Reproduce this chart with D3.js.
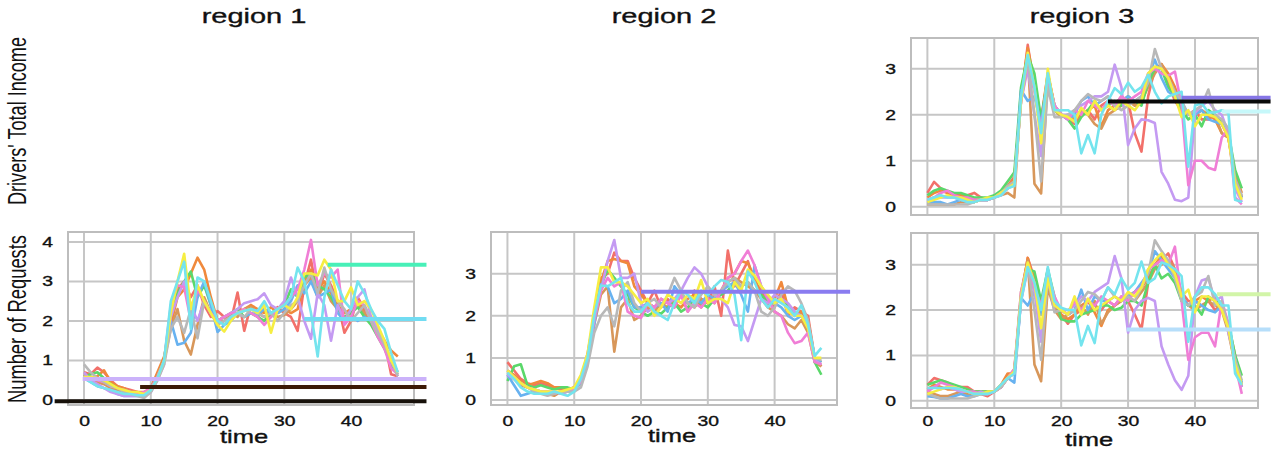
<!DOCTYPE html>
<html>
<head>
<meta charset="utf-8">
<script src="https://cdn.jsdelivr.net/npm/d3@7"></script>
<style>
  body { margin: 0; background: #fff; }
  svg { display: block; font-family: "Liberation Sans", Arial, sans-serif; }
</style>
</head>
<body>
<svg id="chart" width="1272" height="455"></svg>
<script>
// ---- data ----------------------------------------------------------------
const times = d3.range(48);
const regions = ['region 1', 'region 2', 'region 3'];
const rowTitles = ["Drivers' Total Income", 'Number of Requests'];
const xTickValues = [0, 10, 20, 30, 40];
const yTicksR1 = [0, 1, 2, 3, 4];
const yTicksR2 = [0, 1, 2, 3];
const yTicksR3 = [0, 1, 2, 3];

// region 1, number of requests
const r1Red = [0.7,0.65,0.82,0.7,0.5,0.35,0.3,0.25,0.2,0.15, 0.25,0.6,1.0,2.2,2.8,3.0,2.6,2.9,2.4,2.1, 2.25,2.1,2.0,2.72,1.75,2.4,2.1,2.3,2.1,2.35, 2.2,2.1,1.75,2.9,3.55,2.6,3.2,2.9,2.5,1.7, 2.0,2.6,2.3,2.1,1.8,1.5,0.65,0.6];
const r1Orange = [0.6,0.55,0.6,0.75,0.45,0.35,0.3,0.2,0.2,0.2, 0.3,0.7,1.1,1.9,2.6,2.8,3.2,3.6,3.3,2.6, 2.0,2.1,2.15,2.2,2.3,2.4,2.3,2.2,2.35,2.2, 2.3,2.2,2.3,3.0,3.3,2.8,3.0,2.7,2.4,2.2, 2.3,2.5,2.2,2.0,1.8,1.5,1.25,1.1];
const r1Tan = [0.65,0.5,0.45,0.4,0.3,0.25,0.2,0.15,0.15,0.15, 0.25,0.6,1.0,1.8,2.3,1.5,1.15,1.9,2.6,2.2, 1.95,2.0,2.2,2.1,2.3,2.35,2.2,2.1,2.2,2.1, 2.15,2.3,2.5,2.9,3.1,2.6,2.9,2.5,2.3,2.1, 2.2,2.4,2.2,2.0,1.7,1.4,1.0,0.7];
const r1Green = [0.6,0.65,0.7,0.55,0.4,0.3,0.25,0.2,0.15,0.15, 0.3,0.6,1.0,2.3,2.7,3.0,3.25,2.6,2.9,2.4, 2.0,2.1,2.2,2.3,2.1,2.2,2.1,2.0,2.2,2.3, 2.4,2.8,2.6,3.1,3.2,2.9,2.8,2.6,2.3,2.1, 2.2,2.35,2.1,1.9,1.6,1.3,0.9,0.65];
const r1Blue = [0.55,0.45,0.35,0.3,0.25,0.15,0.1,0.1,0.1,0.1, 0.2,0.5,1.0,2.0,1.4,1.45,1.7,2.6,3.0,2.4, 1.72,1.9,2.0,2.2,2.1,2.2,2.15,2.3,2.2,2.2, 2.3,2.5,2.9,2.7,3.0,2.6,2.7,2.8,2.2,2.0, 2.1,2.0,2.1,2.0,1.7,1.4,1.0,0.7];
const r1Purple = [0.7,0.5,0.4,0.3,0.2,0.15,0.1,0.1,0.1,0.1, 0.2,0.5,0.9,2.1,2.6,3.0,2.4,2.0,2.5,2.2, 2.0,2.1,2.2,2.3,2.45,2.5,2.55,2.7,2.4,2.3, 2.5,3.1,2.6,2.0,1.55,2.7,2.4,1.5,2.4,2.0, 2.3,2.6,2.8,2.1,1.8,1.4,1.0,0.6];
const r1Pink = [0.6,0.55,0.5,0.45,0.35,0.3,0.25,0.2,0.15,0.2, 0.3,0.6,1.0,2.4,2.9,2.85,2.0,2.8,2.5,2.2, 2.0,2.1,2.2,2.2,2.3,2.2,2.1,1.9,2.1,2.3, 2.4,2.6,2.8,3.3,4.05,2.9,3.2,3.1,3.3,1.9, 2.1,2.5,2.4,2.0,1.6,1.3,0.8,0.65];
const r1Gray = [0.9,0.7,0.55,0.45,0.35,0.3,0.2,0.15,0.1,0.05, 0.2,0.5,0.9,1.8,2.1,1.7,2.3,1.56,2.5,2.2, 1.9,2.0,2.1,2.2,2.1,2.3,2.2,2.1,2.2,2.0, 2.2,2.4,2.5,2.9,3.2,2.7,3.35,2.8,2.5,2.3, 2.0,2.2,2.4,2.0,1.7,1.4,1.0,0.6];
const r1Yellow = [0.58,0.58,0.55,0.5,0.4,0.3,0.25,0.2,0.2,0.15, 0.25,0.55,1.0,2.2,3.0,3.7,2.3,2.9,2.5,2.2, 1.9,1.73,2.0,2.2,2.25,2.3,2.2,2.4,1.7,2.3, 2.4,2.3,2.6,3.2,3.2,3.15,3.55,3.3,2.5,2.5, 2.85,2.4,2.5,2.3,1.9,1.5,1.0,0.7];
const r1Cyan = [0.55,0.45,0.35,0.3,0.25,0.2,0.15,0.15,0.12,0.12, 0.25,0.55,1.0,2.5,3.0,3.5,1.8,3.1,3.0,2.5, 2.0,1.9,2.1,2.2,2.25,2.3,2.25,2.5,2.2,2.3, 2.4,2.6,3.35,3.0,2.2,1.1,2.6,3.3,2.9,2.5, 2.3,3.0,2.7,2.3,2.0,1.8,1.2,0.7];
const r1LevelStart = [-4.4, 8.4, -0.2, 33, 36.5];
const r1LevelValue = [-0.03, 0.33, 0.53, 2.05, 3.42];

// region 2, number of requests
const r2Red = [0.9,0.7,0.5,0.4,0.35,0.4,0.35,0.3,0.25,0.25, 0.3,0.5,1.1,2.0,2.9,3.0,3.5,3.3,3.3,2.9, 2.6,2.3,2.6,2.2,2.4,2.2,2.5,2.1,2.6,2.4, 2.3,2.7,2.0,3.55,2.7,3.0,3.3,2.8,2.6,2.3, 2.2,2.6,2.0,2.2,2.1,2.0,1.0,0.8];
const r2Orange = [0.7,0.6,0.45,0.35,0.4,0.45,0.4,0.3,0.3,0.25, 0.3,0.5,1.0,1.9,2.8,3.3,3.35,3.3,3.25,2.7, 2.5,2.3,2.2,2.4,2.3,2.3,2.2,2.4,2.5,2.2, 2.4,2.3,2.6,2.9,3.0,3.3,3.25,2.9,2.5,2.3, 2.4,2.8,2.2,2.0,2.1,1.9,1.0,0.9];
const r2Tan = [0.6,0.5,0.35,0.3,0.25,0.2,0.15,0.1,0.2,0.2, 0.25,0.4,0.9,1.8,2.5,2.7,1.15,2.2,2.4,1.9, 2.0,2.2,2.1,2.3,2.2,2.4,2.5,2.3,2.2,2.4, 2.3,2.5,2.6,2.8,2.9,2.8,2.7,2.6,2.4,2.2, 2.1,2.0,1.8,1.7,1.9,1.6,0.9,0.8];
const r2Green = [0.45,0.8,0.85,0.35,0.3,0.35,0.3,0.25,0.3,0.3, 0.25,0.45,1.0,1.9,2.7,3.1,2.9,2.7,2.5,2.2, 2.1,2.0,2.1,2.05,2.2,2.3,2.1,2.2,2.4,2.3, 2.2,2.4,2.5,2.6,2.8,2.7,2.8,2.6,2.5,2.3, 2.3,2.4,2.2,2.1,2.0,1.8,0.9,0.6];
const r2Blue = [0.6,0.35,0.1,0.15,0.2,0.15,0.15,0.2,0.15,0.2, 0.25,0.4,0.9,1.8,2.75,2.7,2.3,2.4,2.6,2.2, 2.2,2.3,2.2,2.3,2.1,2.7,2.5,2.3,2.4,2.3, 2.5,2.4,2.6,2.7,2.8,2.5,2.1,3.2,2.7,2.4, 2.3,2.2,2.0,1.9,2.0,1.8,1.0,0.9];
const r2Purple = [0.6,0.5,0.4,0.3,0.25,0.2,0.2,0.15,0.2,0.2, 0.25,0.45,1.0,2.0,2.6,3.3,3.8,2.9,2.9,3.0, 2.3,2.1,2.2,2.4,2.3,2.4,2.6,2.9,3.15,3.0, 2.7,2.5,2.4,2.2,1.78,1.75,1.4,1.9,2.4,2.3, 2.5,2.4,2.3,2.1,2.0,1.8,0.95,0.85];
const r2Pink = [0.65,0.55,0.4,0.3,0.25,0.2,0.2,0.2,0.15,0.2, 0.25,0.45,1.0,1.9,2.6,2.9,2.7,2.8,2.1,2.0, 1.95,2.3,2.2,2.4,2.3,2.2,2.5,2.1,2.3,2.2, 2.4,2.3,2.6,2.9,3.0,3.3,3.55,3.2,2.7,2.4, 2.1,2.0,1.6,1.35,1.4,1.6,0.9,0.85];
const r2Gray = [0.7,0.55,0.4,0.3,0.2,0.15,0.1,0.15,0.2,0.2, 0.2,0.3,0.8,1.6,2.0,2.2,1.75,2.6,2.8,2.3, 2.1,2.3,2.4,2.2,2.5,2.9,2.6,2.3,2.2,2.5, 2.7,2.5,2.6,2.8,2.9,2.7,2.8,2.6,2.1,2.0, 2.2,2.5,2.7,2.6,2.3,1.9,1.0,0.95];
const r2Yellow = [0.7,0.55,0.4,0.3,0.25,0.2,0.2,0.2,0.2,0.25, 0.3,0.6,1.1,2.2,3.15,3.15,2.8,2.8,2.7,2.5, 2.3,2.4,2.0,2.2,2.5,2.4,2.3,2.5,2.4,2.85, 2.3,2.4,2.4,2.3,2.8,2.6,3.1,2.95,2.7,2.5, 2.3,2.4,2.1,2.0,2.0,1.7,1.0,1.0];
const r2Cyan = [0.65,0.5,0.3,0.2,0.15,0.15,0.15,0.2,0.15,0.1, 0.2,0.5,1.0,2.0,2.72,2.7,2.8,2.9,2.3,2.1, 2.1,2.3,2.1,2.0,1.9,2.3,2.6,2.5,2.3,2.6, 2.5,2.7,2.85,2.8,2.5,1.42,3.05,2.8,2.4,2.2, 2.4,2.3,2.2,2.0,2.25,1.8,1.05,1.24];
const r2LevelStart = [20];
const r2LevelValue = [2.57];

// region 3, drivers' total income
const r3iRed = [0.3,0.54,0.4,0.3,0.25,0.25,0.25,0.3,0.2,0.15, 0.2,0.3,0.45,0.65,2.3,3.52,2.6,1.8,2.9,2.2, 2.0,1.9,1.8,2.0,2.1,1.9,2.2,2.3,2.2,2.4, 2.3,1.6,1.2,2.4,3.0,3.1,2.7,2.3,2.1,2.0, 2.1,1.9,1.9,2.0,1.8,1.5,0.6,0.2];
const r3iOrange = [0.2,0.3,0.35,0.3,0.2,0.25,0.2,0.15,0.15,0.15, 0.2,0.3,0.45,0.6,2.4,3.45,2.7,1.9,2.9,2.2, 2.0,1.95,1.9,2.0,2.1,2.2,1.75,2.1,2.2,2.3, 2.4,2.2,2.3,2.7,3.0,3.1,2.9,2.6,2.2,2.0, 2.0,2.1,2.0,1.9,1.6,1.5,0.7,0.3];
const r3iTan = [0.05,0.05,0.05,0.05,0.05,0.1,0.1,0.1,0.15,0.15, 0.2,0.25,0.3,0.2,2.5,3.3,0.5,0.29,2.8,2.1, 1.95,2.0,1.9,2.1,2.0,1.8,1.7,2.0,2.1,2.2, 2.3,2.2,2.3,2.6,2.9,3.1,2.8,2.5,2.2,2.0, 2.0,2.1,1.95,2.0,1.6,1.5,0.6,0.2];
const r3iGreen = [0.25,0.35,0.4,0.35,0.3,0.3,0.25,0.2,0.2,0.2, 0.25,0.35,0.55,0.75,2.6,3.3,2.9,1.9,2.8,2.1, 2.0,1.9,1.7,1.95,2.1,2.3,2.1,2.2,2.3,2.2, 2.4,2.3,2.2,2.7,3.0,3.0,2.6,2.4,2.1,1.9, 2.0,1.75,2.1,2.0,1.8,1.6,0.8,0.4];
const r3iBlue = [0.1,0.1,0.1,0.05,0.1,0.15,0.1,0.1,0.15,0.15, 0.2,0.3,0.4,0.5,2.54,2.3,2.4,1.8,2.8,2.2, 2.0,1.9,2.0,2.3,2.4,2.2,2.3,2.4,2.2,2.3, 2.4,2.3,2.4,2.8,3.2,2.8,2.5,2.4,2.3,2.0, 2.0,2.1,1.9,1.85,1.8,1.6,0.5,0.2];
const r3iPurple = [0.15,0.2,0.2,0.2,0.2,0.15,0.15,0.1,0.15,0.15, 0.2,0.25,0.4,0.5,2.3,3.0,2.0,1.1,2.8,2.2, 2.0,2.0,2.1,2.2,2.3,2.4,2.4,2.5,3.09,2.6, 1.34,1.7,1.9,1.88,1.82,0.76,0.5,0.15,0.12,0.2, 2.04,2.2,2.3,2.1,2.0,1.6,0.4,0.1];
const r3iPink = [0.15,0.2,0.3,0.35,0.25,0.2,0.2,0.15,0.15,0.15, 0.2,0.3,0.4,0.5,2.3,3.1,2.5,1.7,2.8,2.2, 2.0,1.9,2.1,2.0,2.3,2.2,2.1,2.3,2.2,2.4, 2.3,2.4,2.5,2.9,3.0,2.9,2.85,2.94,2.2,0.47, 1.0,1.0,0.85,0.8,1.5,1.7,0.2,0.05];
const r3iGray = [0.05,0.05,0.05,0.05,0.05,0.05,0.05,0.1,0.15,0.15, 0.2,0.3,0.45,0.55,2.3,3.2,2.0,0.55,2.6,1.95, 1.95,2.0,2.1,2.3,2.45,2.35,2.3,2.4,2.2,2.1, 2.2,2.3,2.4,2.7,3.43,3.0,2.8,2.5,2.3,2.0, 2.1,2.2,2.55,2.0,1.9,1.7,0.6,0.25];
const r3iYellow = [0.1,0.15,0.2,0.25,0.2,0.2,0.15,0.1,0.15,0.2, 0.2,0.3,0.4,0.5,2.3,3.35,2.6,1.38,3.0,2.1, 2.0,1.95,1.85,2.15,2.0,2.3,2.1,2.2,2.1,2.3, 2.2,2.1,2.3,2.9,3.05,3.0,2.8,2.4,1.95,2.1, 1.75,2.0,2.0,1.95,1.8,1.5,0.5,0.15];
const r3iCyan = [0.15,0.2,0.25,0.2,0.2,0.15,0.1,0.1,0.15,0.15, 0.2,0.25,0.4,0.45,2.4,3.3,2.6,1.6,2.9,2.1, 2.1,2.1,2.0,1.16,1.56,1.16,2.0,2.3,2.58,2.45, 2.7,2.5,2.6,2.87,2.5,2.25,2.4,2.45,2.5,0.87, 2.2,2.25,2.05,2.05,2.1,2.04,0.15,0.1];
const r3iLevelStart = [38, 27, 44];
const r3iLevelValue = [2.37, 2.29, 2.07];

// region 3, number of requests
const r3qRed = [0.35,0.5,0.45,0.4,0.3,0.3,0.3,0.2,0.15,0.1, 0.2,0.3,0.5,0.7,2.2,3.15,2.7,2.0,2.9,2.1, 1.9,1.7,1.9,2.0,2.2,2.1,2.0,2.2,2.1,2.3, 2.2,1.9,1.57,2.6,3.0,3.1,3.25,2.9,2.4,2.2, 2.2,2.1,2.2,2.0,2.1,1.6,0.8,0.3];
const r3qOrange = [0.25,0.35,0.3,0.25,0.25,0.2,0.15,0.2,0.2,0.15, 0.2,0.35,0.6,0.6,2.3,3.15,2.6,1.9,2.8,2.2, 1.9,1.8,1.9,2.1,2.2,1.95,1.65,2.0,2.1,2.2, 2.3,2.4,2.5,2.7,3.0,3.2,3.0,2.8,2.3,2.1, 2.2,2.3,2.2,2.3,2.0,1.7,1.0,0.35];
const r3qTan = [0.2,0.15,0.1,0.1,0.15,0.2,0.15,0.15,0.2,0.2, 0.2,0.3,0.5,0.6,2.4,3.1,0.8,0.43,2.5,2.0, 1.8,1.9,2.0,2.1,1.9,2.2,1.7,1.95,2.1,2.2, 2.3,2.2,2.4,2.6,2.9,3.0,3.1,2.9,2.2,2.1, 2.0,2.1,2.2,2.1,2.0,1.5,0.8,0.3];
const r3qGreen = [0.35,0.4,0.45,0.4,0.35,0.3,0.25,0.2,0.2,0.2, 0.2,0.35,0.5,0.65,2.3,2.9,2.85,2.2,2.9,2.3, 1.8,1.75,1.75,1.9,1.95,2.0,2.1,2.1,2.0,2.05, 2.2,2.2,2.1,2.6,3.0,2.7,2.8,2.6,2.2,2.1, 2.1,1.9,2.3,2.2,2.1,1.7,1.0,0.55];
const r3qBlue = [0.1,0.08,0.05,0.05,0.1,0.15,0.1,0.1,0.15,0.15, 0.2,0.3,0.5,0.4,2.27,2.1,2.4,1.9,2.8,2.1, 2.0,1.9,2.0,2.45,2.0,2.3,2.2,2.2,2.3,2.2, 2.3,2.4,2.6,2.8,3.3,3.1,2.9,2.7,2.3,2.1, 2.2,2.1,2.0,1.95,2.1,1.6,0.9,0.4];
const r3qPurple = [0.25,0.3,0.25,0.3,0.25,0.2,0.2,0.15,0.2,0.15, 0.2,0.35,0.5,0.6,2.2,2.9,2.4,1.3,2.8,2.2, 2.0,2.0,2.1,2.3,2.2,2.4,2.5,2.6,3.19,2.7, 1.5,2.0,2.2,2.27,2.2,1.2,0.8,0.45,0.24,0.55, 2.3,2.65,2.7,2.2,2.3,1.5,0.9,0.3];
const r3qPink = [0.2,0.3,0.4,0.35,0.3,0.25,0.2,0.2,0.15,0.15, 0.2,0.3,0.5,0.7,2.4,3.0,2.5,2.1,2.8,2.3, 2.0,1.9,2.2,2.0,2.2,2.1,2.3,2.2,2.1,2.3, 2.2,2.4,2.5,2.9,3.0,3.1,3.0,3.4,2.2,0.9, 1.4,1.5,1.5,1.2,2.2,1.7,0.8,0.15];
const r3qGray = [0.15,0.1,0.05,0.05,0.05,0.05,0.05,0.1,0.15,0.15, 0.2,0.3,0.5,0.6,2.3,3.0,2.0,0.9,2.7,1.95, 2.0,1.9,2.0,2.2,2.4,2.35,2.2,2.5,2.3,2.2, 2.3,2.2,2.5,2.8,3.54,3.3,3.1,2.7,2.2,2.1, 2.3,2.4,2.75,2.1,2.2,1.6,0.9,0.45];
const r3qYellow = [0.15,0.2,0.25,0.3,0.3,0.25,0.2,0.15,0.15,0.2, 0.2,0.35,0.5,0.65,2.3,3.05,2.6,1.6,2.7,2.1, 2.0,1.9,2.3,1.9,2.25,2.0,2.1,2.2,2.3,2.2, 2.4,2.3,2.5,2.9,3.1,3.25,3.0,2.8,2.3,2.45, 1.95,2.3,2.3,2.2,2.0,1.6,0.8,0.35];
const r3qCyan = [0.28,0.28,0.28,0.28,0.28,0.25,0.2,0.15,0.15,0.15, 0.2,0.35,0.5,0.6,2.2,2.95,2.6,2.0,2.95,2.2, 2.05,2.0,2.0,1.22,1.65,1.27,2.2,2.5,2.35,2.7, 2.45,2.6,3.07,2.6,2.7,3.05,3.0,2.9,2.75,1.3, 2.3,2.5,2.5,2.35,2.1,2.1,0.6,0.35];
const r3qLevelStart = [43.3, 29.8];
const r3qLevelValue = [2.35, 1.57];

const levelEnd = 51.3;

// ---- styles --------------------------------------------------------------
const seriesColors = ['#f2706a', '#f0893c', '#d8975a', '#5ad86a', '#68b2f0',
                      '#c49af2', '#f07ed6', '#b8b8b8', '#f6ee42', '#74e4ee'];
const r1LevelColor = ['#17110a', '#3c1a07', '#cbb2fa', '#72dcf2', '#48f0b8'];
const r2LevelColor = ['#8a7cf0'];
const r3iLevelColor = ['#8676e6', '#0a0a0a', '#c6f8fa'];
const r3qLevelColor = ['#d2f5a8', '#b6defa'];
const gridColor = '#c6c6c6';
const textStretch = 1.38; // the reference is stretched horizontally

const panels = [
  {
    series: [r1Red, r1Orange, r1Tan, r1Green, r1Blue, r1Purple, r1Pink, r1Gray, r1Yellow, r1Cyan],
    levels: { start: r1LevelStart, value: r1LevelValue, color: r1LevelColor },
    box: { left: 68, right: 414, top: 232, bottom: 405 },
    xDomain: [-2.4, 49.43], yDomain: [-0.127, 4.25], yTicks: yTicksR1,
    xLabels: true, timeX: 244, timeY: 442.5
  },
  {
    series: [r2Red, r2Orange, r2Tan, r2Green, r2Blue, r2Purple, r2Pink, r2Gray, r2Yellow, r2Cyan],
    levels: { start: r2LevelStart, value: r2LevelValue, color: r2LevelColor },
    box: { left: 491, right: 837, top: 232, bottom: 405 },
    xDomain: [-2.46, 49.34], yDomain: [-0.118, 3.99], yTicks: yTicksR2,
    xLabels: true, timeX: 672, timeY: 442
  },
  {
    series: [r3iRed, r3iOrange, r3iTan, r3iGreen, r3iBlue, r3iPurple, r3iPink, r3iGray, r3iYellow, r3iCyan],
    levels: { start: r3iLevelStart, value: r3iLevelValue, color: r3iLevelColor },
    box: { left: 911, right: 1258, top: 38, bottom: 215 },
    xDomain: [-2.45, 49.42], yDomain: [-0.18, 3.67], yTicks: yTicksR3,
    xLabels: false
  },
  {
    series: [r3qRed, r3qOrange, r3qTan, r3qGreen, r3qBlue, r3qPurple, r3qPink, r3qGray, r3qYellow, r3qCyan],
    levels: { start: r3qLevelStart, value: r3qLevelValue, color: r3qLevelColor },
    box: { left: 911, right: 1258, top: 233, bottom: 408 },
    xDomain: [-2.45, 49.42], yDomain: [-0.161, 3.70], yTicks: yTicksR3,
    xLabels: true, timeX: 1089, timeY: 445.5
  }
];

// ---- drawing -------------------------------------------------------------
const svg = d3.select('#chart');

function styleLabel (sel, size) {
  sel.attr('font-size', size)
    .attr('font-family', '"Liberation Sans", Arial, sans-serif')
    .attr('fill', '#111')
    .attr('stroke', '#111')
    .attr('stroke-width', 0.35);
}

function drawPanel (p) {
  const x = d3.scaleLinear().domain(p.xDomain).range([p.box.left, p.box.right]);
  const y = d3.scaleLinear().domain(p.yDomain).range([p.box.bottom, p.box.top]);
  const g = svg.append('g').attr('class', 'panel');

  g.append('rect')
    .attr('x', p.box.left).attr('y', p.box.top)
    .attr('width', p.box.right - p.box.left)
    .attr('height', p.box.bottom - p.box.top)
    .attr('fill', '#fff');

  // grid
  g.selectAll('line.vgrid')
    .data(xTickValues)
    .join('line')
    .attr('class', 'vgrid')
    .attr('x1', d => x(d)).attr('x2', d => x(d))
    .attr('y1', p.box.top).attr('y2', p.box.bottom)
    .attr('stroke', gridColor).attr('stroke-width', 2);

  g.selectAll('line.hgrid')
    .data(p.yTicks)
    .join('line')
    .attr('class', 'hgrid')
    .attr('x1', p.box.left).attr('x2', p.box.right)
    .attr('y1', d => y(d)).attr('y2', d => y(d))
    .attr('stroke', gridColor).attr('stroke-width', 2);

  g.append('rect')
    .attr('x', p.box.left).attr('y', p.box.top)
    .attr('width', p.box.right - p.box.left)
    .attr('height', p.box.bottom - p.box.top)
    .attr('fill', 'none')
    .attr('stroke', '#bdbdbd').attr('stroke-width', 2);

  // series
  const line = d3.line()
    .x((d, i) => x(times[i]))
    .y(d => y(d));

  g.selectAll('path.series')
    .data(p.series)
    .join('path')
    .attr('class', 'series')
    .attr('d', line)
    .attr('fill', 'none')
    .attr('stroke', (d, i) => seriesColors[i])
    .attr('stroke-width', 2.6)
    .attr('stroke-linejoin', 'round');

  // flat level lines running off the right edge
  g.selectAll('line.level')
    .data(p.levels.start)
    .join('line')
    .attr('class', 'level')
    .attr('x1', d => x(d)).attr('x2', x(levelEnd))
    .attr('y1', (d, i) => y(p.levels.value[i]))
    .attr('y2', (d, i) => y(p.levels.value[i]))
    .attr('stroke', (d, i) => p.levels.color[i])
    .attr('stroke-width', 4);

  // y axis labels
  g.append('g')
    .attr('transform', `translate(${p.box.left - 4},0)`)
    .call(d3.axisLeft(y).tickValues(p.yTicks).tickSize(0).tickPadding(8).tickFormat(d3.format('d')))
    .call(a => a.select('.domain').remove())
    .selectAll('text')
    .attr('transform', `scale(${textStretch},1)`)
    .call(styleLabel, 14);

  if (p.xLabels) {
    g.append('g')
      .attr('transform', 'translate(0,405)')
      .call(d3.axisBottom(x).tickValues(xTickValues).tickSize(0).tickPadding(11).tickFormat(d3.format('d')))
      .call(a => a.select('.domain').remove())
      .selectAll('text')
      .attr('transform', `scale(${textStretch},1)`)
      .call(styleLabel, 14);

    g.append('text')
      .attr('transform', `translate(${p.timeX},${p.timeY}) scale(${textStretch},1)`)
      .attr('text-anchor', 'middle')
      .call(styleLabel, 18.5)
      .text('time');
  }
}

panels.forEach(drawPanel);

// column titles
const titleX = [254, 664, 1082];
svg.selectAll('text.region')
  .data(regions)
  .join('text')
  .attr('class', 'region')
  .attr('transform', (d, i) => `translate(${titleX[i]},23) scale(${textStretch},1)`)
  .attr('text-anchor', 'middle')
  .call(styleLabel, 21)
  .text(d => d);

// row titles
const rowTitleY = [121, 319];
svg.selectAll('text.row')
  .data(rowTitles)
  .join('text')
  .attr('class', 'row')
  .attr('transform', (d, i) => `translate(26,${rowTitleY[i]}) scale(${textStretch},1) rotate(-90)`)
  .attr('text-anchor', 'middle')
  .attr('font-size', 19)
  .attr('textLength', 168)
  .attr('lengthAdjust', 'spacingAndGlyphs')
  .attr('fill', '#111')
  .text(d => d);
</script>
</body>
</html>
